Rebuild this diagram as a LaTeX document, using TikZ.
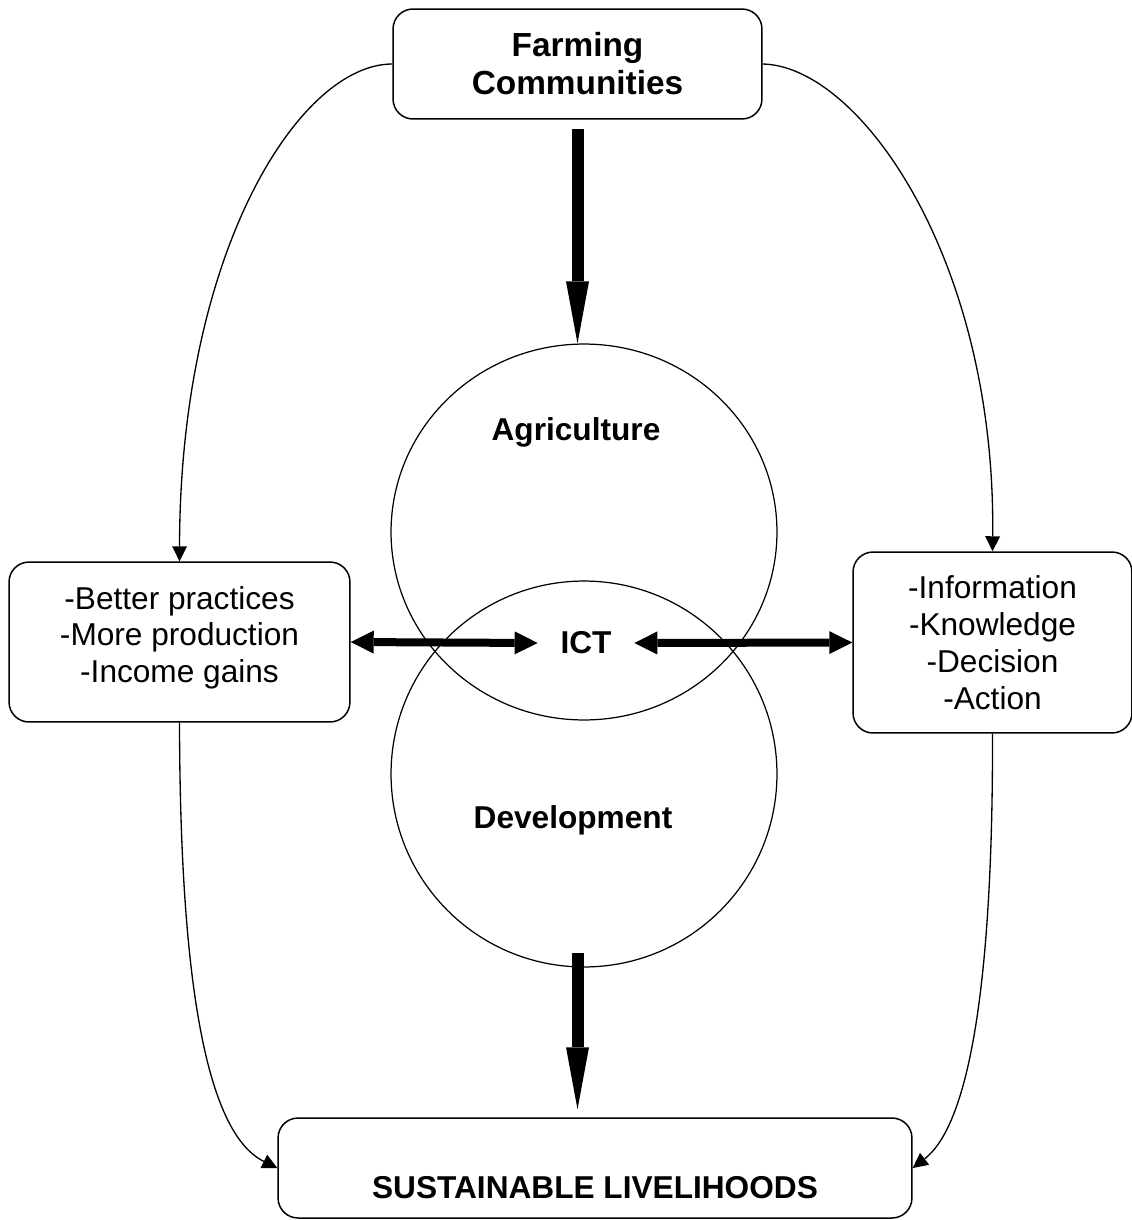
\documentclass[tikz,border=0pt]{standalone}
\usepackage{fontspec}
\setmainfont{Liberation Sans}
\usetikzlibrary{arrows.meta}
\usetikzlibrary{shapes.geometric}
\usetikzlibrary{calc}

\begin{document}
\begin{tikzpicture}[x=0.02cm,y=-0.02cm,
    box/.style={draw,line width=0.85pt,rounded corners=0.4cm,align=center,inner sep=0pt,font=\fontsize{18}{21}\selectfont},
    ring/.style={draw,ellipse,line width=0.7pt,minimum width=7.72cm,inner sep=0pt},
    word/.style={font=\fontsize{18}{21}\selectfont\bfseries},
    thinarrow/.style={-{Triangle[length=0.3cm,width=0.3cm,line width=0pt]},line width=0.75pt},
    bigarrow/.style={-{Triangle[length=1.24cm,width=0.46cm,line width=0pt]},line width=0.24cm},
    dblarrow/.style={{Triangle[length=0.46cm,width=0.46cm,line width=0pt]}-{Triangle[length=0.46cm,width=0.46cm,line width=0pt]},line width=0.16cm}]
    \useasboundingbox (0,0) rectangle (1132,1220);

    \node[box,minimum width=7.38cm,minimum height=2.2cm,font=\fontsize{19}{21.6}\selectfont\bfseries] (farm) at (577.5,64) {Farming\\Communities};
    \node[box,minimum width=6.82cm,minimum height=3.2cm,text depth=0.3cm] (better) at (179.5,642) {-Better practices\\-More production\\-Income gains};
    \node[box,minimum width=5.58cm,minimum height=3.62cm] (info) at (992.5,642.5) {-Information\\-Knowledge\\-Decision\\-Action};
    \node[box,minimum width=12.68cm,minimum height=2cm,font=\fontsize{18}{21}\selectfont\bfseries,text height=1.2cm,text depth=0pt] (sustain) at (595,1168) {SUSTAINABLE LIVELIHOODS};

    \node[ring,minimum height=7.52cm] (agri) at (584,532) {};
    \node[ring,minimum height=7.72cm] (devel) at (584,774) {};
    \node[word] (agrilabel) at (576,432) {Agriculture};
    \node[word] (devlabel) at (573,820) {Development};
    \node[word,inner xsep=0.45cm] (ict) at (586,643) {ICT};

    \draw[bigarrow] ($(farm.south)+(0,9)$) -- (farm.south |- agri.north);
    \draw[bigarrow] ($(farm.south |- devel.south)+(0,-15)$) -- ($(farm.south |- sustain.north)+(0,-8)$);
    \draw[dblarrow] (better.east) -- (ict.west);
    \draw[dblarrow] (ict.east) -- (info.west);

    \draw[thinarrow] (farm.west) .. controls (300,64) and (180,250) .. (better.north);
    \draw[thinarrow] (farm.east) .. controls (860,66) and (996,260) .. (info.north);
    \draw[thinarrow] (better.south) .. controls (180,950) and (200,1130) .. (sustain.west);
    \draw[thinarrow] (info.south) .. controls (993,950) and (975,1120) .. (sustain.east);
\end{tikzpicture}
\end{document}
